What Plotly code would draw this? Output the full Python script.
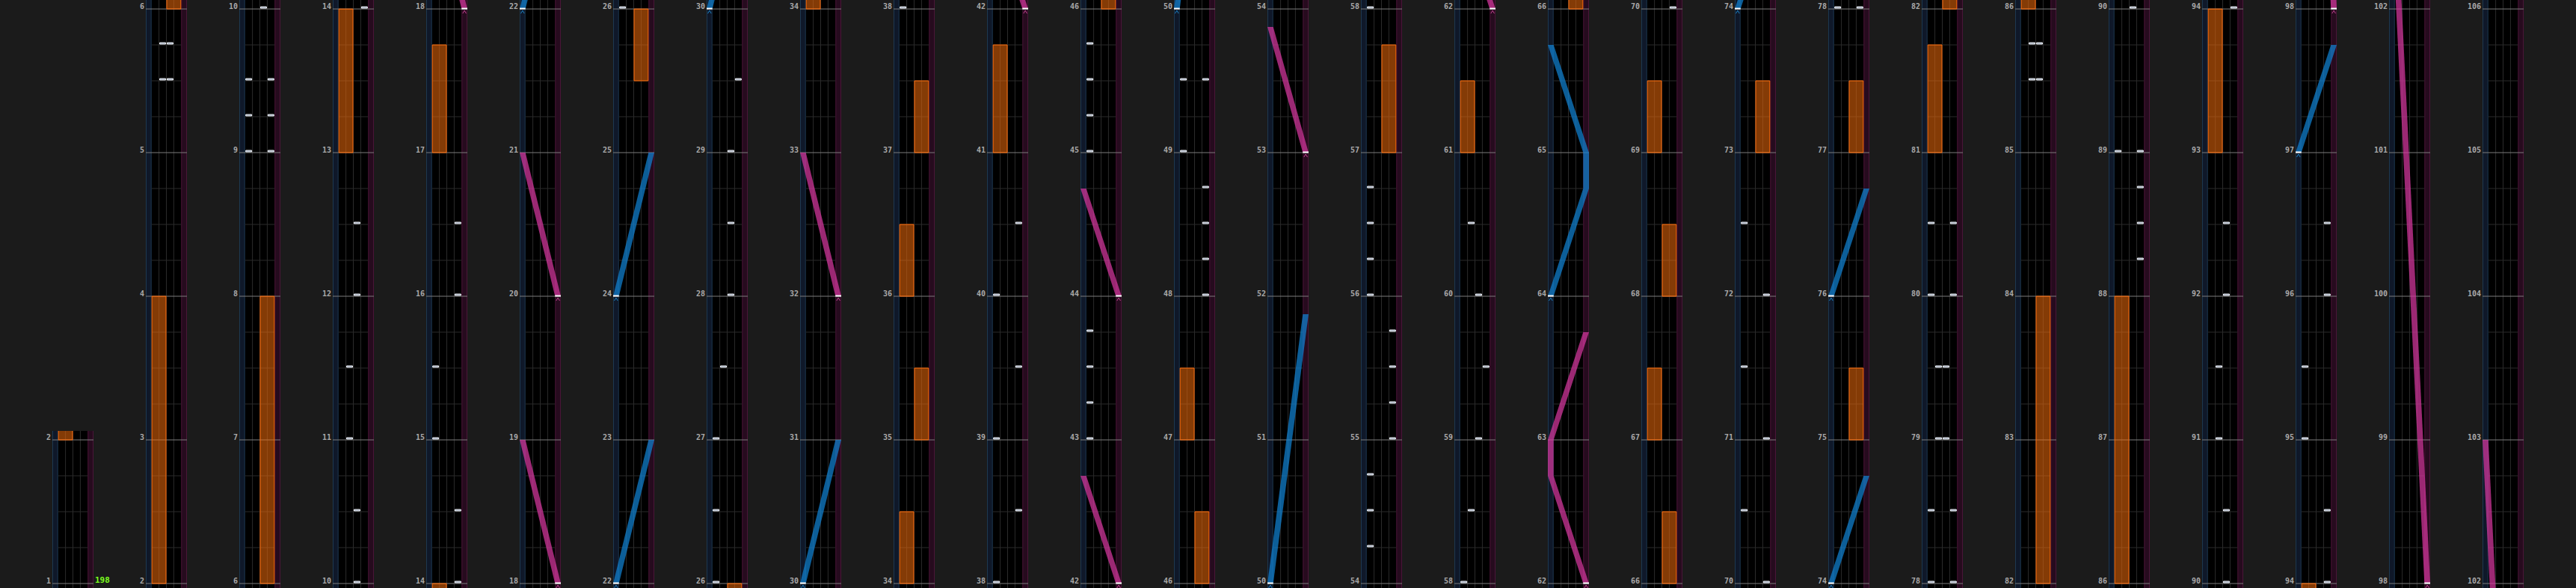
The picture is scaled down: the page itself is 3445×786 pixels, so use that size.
import plotly.graph_objects as go

W, H = 3445, 786

# ---------------- chart data (measure positions, lanes 0..3 = A..D) ----------------
bpm_changes = [(1, 198)]

fx_l_holds = [(2, 4), (13, 14), (17, 17.75), (34, 34.5), (36, 36.5), (41, 41.75),
              (47, 47.5), (61, 61.5), (67, 67.5), (69, 69.5), (81, 81.75), (86, 88), (93, 94)]
fx_r_holds = [(6, 8), (25.5, 26), (35, 35.5), (37, 37.5), (46, 46.5), (57, 57.75),
              (66, 66.5), (68, 68.5), (73, 73.5), (75, 75.5), (77, 77.5), (82, 84)]

bt_a = [9.0, 9.25, 9.5, 15.0, 15.5, 26.0, 26.5, 27.0, 38.0, 39.0, 40.0,
        43.0, 43.25, 43.5, 43.75, 45.0, 45.25, 45.5, 45.75, 49.0, 49.5,
        54.25, 54.5, 54.75, 56.0, 56.25, 56.5, 56.75, 58.0, 70.5, 71.5, 72.5,
        78.0, 78.5, 80.0, 80.5, 89.0, 95.0, 95.5]
bt_b = [5.5, 5.75, 11.0, 11.5, 27.5, 58.5, 60.5, 79.0, 79.5, 85.5, 85.75, 91.0, 91.5]
bt_c = [5.5, 5.75, 10.0, 10.5, 12.0, 12.5, 28.0, 28.5, 29.0, 59.0, 60.0, 79.0, 79.5,
        85.5, 85.75, 90.0, 90.5, 92.0, 92.5]
bt_d = [9.0, 9.25, 9.5, 14.0, 14.5, 16.0, 16.5, 29.5, 38.5, 39.5, 40.5,
        48.0, 48.25, 48.5, 48.75, 49.5, 55.0, 55.25, 55.5, 55.75, 59.5,
        70.0, 71.0, 72.0, 78.0, 78.5, 80.0, 80.5, 88.25, 88.5, 88.75, 89.0,
        94.0, 94.5, 96.0, 96.5]

# lasers: list of (measure, position 0=left .. 1=right)
laser_left = [
    [(22, 0), (23, 1)],
    [(24, 0), (25, 1)],
    [(30, 0), (31, 1)],
    [(50, 0), (51.875, 1)],
    [(64, 0), (64.75, 1), (65, 1), (65.75, 0)],
    [(74, 0), (74.75, 1)],
    [(76, 0), (76.75, 1)],
    [(97, 0), (97.75, 1)],
]
laser_right = [
    [(18, 1), (19, 0)],
    [(20, 1), (21, 0)],
    [(32, 1), (33, 0)],
    [(42, 1), (42.75, 0)],
    [(44, 1), (44.75, 0)],
    [(53, 1), (53.875, 0)],
    [(62, 1), (62.75, 0), (63, 0), (63.75, 1)],
    [(98, 1), (103, 0)],
]

# ---------------- layout constants ----------------
N_COLS = 27
PXM = 192.0           # pixels per measure
PITCH = 125
LEFT0 = 70
TRACK_W = 55
LASER_W = 7.7 / 9.9   # laser lane width in BT-lane units
XR = (-LASER_W, 4 + LASER_W)

BG = "#1b1b1b"
GRID = "#2b2b2b"
MEASURE_LINE = "#7d7d7d"
LBL = "#a9a9a9"
HOLD_FILL = "rgba(235,105,10,0.56)"
HOLD_LINE = "#ff6c0a"
BLUE = "rgba(16,130,210,0.72)"
BLUE_SOLID = "#1a7fc0"
PINK = "rgba(215,55,160,0.72)"
PINK_SOLID = "#c0408f"


def col_info(k):
    if k == 0:
        m0 = 1
        lo, hi = m0 - 6 / PXM, m0 + 204 / PXM
        ydom = [0, 210 / H]
    else:
        m0 = 4 * k - 2
        lo, hi = m0 - 6 / PXM, m0 + 780 / PXM
        ydom = [0, 1]
    xdom = [(LEFT0 + PITCH * k) / W, (LEFT0 + TRACK_W + PITCH * k) / W]
    return m0, lo, hi, xdom, ydom


def laser_x(p):
    return -LASER_W + p * (4 + LASER_W)


fig = go.Figure()
shapes = []
annotations = []
layout_axes = {}

for k in range(N_COLS):
    m0, lo, hi, xdom, ydom = col_info(k)
    sx = "" if k == 0 else str(k + 1)
    xa, ya = "x" + sx, "y" + sx
    layout_axes["xaxis" + sx] = dict(domain=xdom, range=list(XR), visible=False,
                                     fixedrange=True, anchor=ya)
    layout_axes["yaxis" + sx] = dict(domain=ydom, range=[lo, hi], visible=False,
                                     fixedrange=True, anchor=xa)

    # track background + laser lanes
    shapes.append(dict(type="rect", xref=xa, yref=ya, x0=XR[0], x1=XR[1], y0=lo, y1=hi,
                       fillcolor="black", line=dict(width=0), layer="below"))
    shapes.append(dict(type="rect", xref=xa, yref=ya, x0=XR[0] + 0.05, x1=-0.05, y0=lo - 1, y1=hi + 1,
                       fillcolor="#0f1829", line=dict(color="#1d3850", width=1), layer="below"))
    shapes.append(dict(type="rect", xref=xa, yref=ya, x0=4.05, x1=XR[1] - 0.05, y0=lo - 1, y1=hi + 1,
                       fillcolor="#260b1e", line=dict(color="#4a1538", width=1), layer="below"))

    # grid lines
    gx, gy = [], []
    for lane in range(1, 4):
        gx += [lane, lane, None]
        gy += [lo, hi, None]
    q = int((lo * 4) // 1) - 1
    while q / 4 <= hi + 0.01:
        v = q / 4
        if lo <= v <= hi and q % 4 != 0:
            gx += [0, 4, None]
            gy += [v, v, None]
        q += 1
    fig.add_trace(go.Scatter(x=gx, y=gy, mode="lines", line=dict(color=GRID, width=1),
                             xaxis=xa, yaxis=ya, hoverinfo="skip", showlegend=False))

    mx, my = [], []
    for m in range(int(lo) - 1, int(hi) + 2):
        if lo <= m <= hi and m >= 1:
            mx += [XR[0], XR[1], None]
            my += [m, m, None]
            annotations.append(dict(xref=xa, yref=ya, x=XR[0], y=m, text="<b>%d</b>" % m,
                                    showarrow=False, xanchor="right", yanchor="bottom",
                                    xshift=-1, yshift=-3, borderpad=0,
                                    font=dict(family="DejaVu Sans Mono", size=10, color=LBL)))
    fig.add_trace(go.Scatter(x=mx, y=my, mode="lines", line=dict(color=MEASURE_LINE, width=1),
                             xaxis=xa, yaxis=ya, hoverinfo="skip", showlegend=False))

    # lasers
    for lasers, col, solid in ((laser_left, BLUE, BLUE_SOLID), (laser_right, PINK, PINK_SOLID)):
        for pts in lasers:
            if pts[-1][0] < lo or pts[0][0] > hi:
                continue
            xs = [laser_x(p) for m, p in pts] + [laser_x(p) + LASER_W for m, p in reversed(pts)]
            ys = [m for m, p in pts] + [m for m, p in reversed(pts)]
            xs.append(xs[0]); ys.append(ys[0])
            fig.add_trace(go.Scatter(x=xs, y=ys, mode="lines", fill="toself", fillcolor=col,
                                     line=dict(width=0), xaxis=xa, yaxis=ya,
                                     hoverinfo="skip", showlegend=False))
            ms, ps = pts[0]
            if lo - 0.05 <= ms <= hi:
                cx = laser_x(ps) + LASER_W / 2
                fig.add_trace(go.Scatter(
                    x=[cx - LASER_W * 0.3, cx, cx + LASER_W * 0.3],
                    y=[ms - 6 / PXM, ms - 2 / PXM, ms - 6 / PXM],
                    mode="lines", line=dict(color=solid, width=1),
                    xaxis=xa, yaxis=ya, hoverinfo="skip", showlegend=False))
                shapes.append(dict(type="line", xref=xa, yref=ya, x0=laser_x(ps), x1=laser_x(ps) + LASER_W,
                                   y0=ms + 0.5 / PXM, y1=ms + 0.5 / PXM,
                                   line=dict(color="white", width=2), layer="above"))

    # FX holds
    for holds, x0, x1 in ((fx_l_holds, 0, 2), (fx_r_holds, 2, 4)):
        for s, e in holds:
            if e < lo or s > hi:
                continue
            shapes.append(dict(type="rect", xref=xa, yref=ya, x0=x0 + 0.05, x1=x1 - 0.05, y0=s, y1=e,
                               fillcolor=HOLD_FILL, line=dict(color=HOLD_LINE, width=1), layer="above"))

    # BT chips
    for lane, notes in enumerate((bt_a, bt_b, bt_c, bt_d)):
        for m in notes:
            if m < lo - 0.03 or m > hi:
                continue
            shapes.append(dict(type="rect", xref=xa, yref=ya, x0=lane + 0.1, x1=lane + 0.9,
                               y0=m + 1.0 / PXM, y1=m + 3.0 / PXM,
                               fillcolor="#8f9bb0", line=dict(color="#f2f5fa", width=1), layer="above"))

    if k == 0:
        for m, bpm in bpm_changes:
            annotations.append(dict(xref=xa, yref=ya, x=XR[1], y=m, text="<b>%d</b>" % bpm,
                                    showarrow=False, xanchor="left", yanchor="bottom",
                                    xshift=1, yshift=-3, borderpad=0,
                                    font=dict(family="DejaVu Sans Mono", size=11, color="#7cff1e")))

fig.update_layout(
    width=W, height=H,
    margin=dict(l=0, r=0, t=0, b=0),
    paper_bgcolor=BG, plot_bgcolor="black",
    showlegend=False,
    shapes=shapes, annotations=annotations,
    **layout_axes,
)

fig.write_html("out.html", config={"displayModeBar": False, "staticPlot": True},
               post_script="document.body.style.margin='0';document.body.style.overflow='hidden';")
